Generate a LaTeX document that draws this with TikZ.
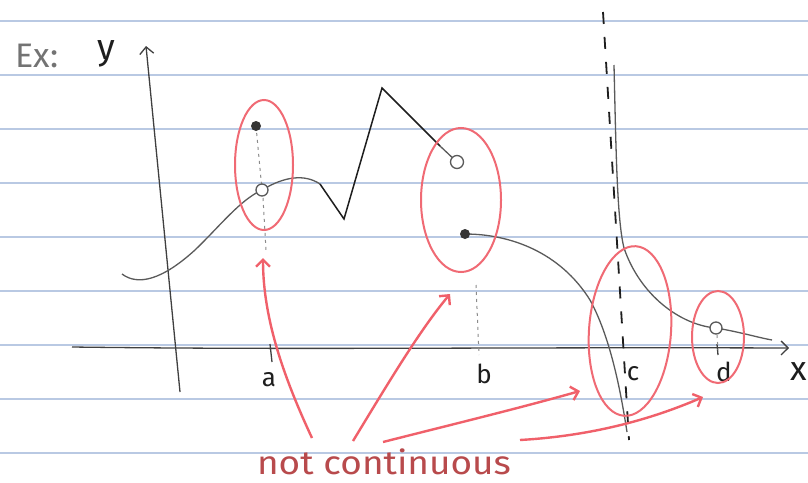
\documentclass[tikz,border=0pt]{standalone}
\usepackage{fontspec}
\setmainfont{Fira Sans}
\usetikzlibrary{arrows.meta}
\definecolor{paperline}{HTML}{B9C9E3}
\definecolor{pen}{HTML}{5A5A5A}
\definecolor{ink}{HTML}{1E1E1E}
\definecolor{circred}{HTML}{F06A74}
\definecolor{arrred}{HTML}{F0606A}
\definecolor{txtred}{HTML}{B84A4C}
\tikzset{
  paper/.style={paperline, line width=1.4pt},
  graphline/.style={pen, line width=1.3pt},
  zigline/.style={ink, line width=1.5pt},
  axisline/.style={ink!85, line width=1.3pt},
  guide/.style={pen!70, line width=1pt, dash pattern=on 3pt off 4pt},
  asym/.style={ink, line width=1.8pt, dash pattern=on 12pt off 13pt},
  ring/.style={circred, line width=2pt},
  note/.style={arrred, line width=2.4pt, -{Straight Barb[length=7pt,width=14pt,line width=2.4pt]}},
  opendot/.style={circle, draw=pen, line width=1.3pt, fill=white, minimum size=12pt, inner sep=0pt},
  fulldot/.style={circle, fill=ink!90, minimum size=10pt, inner sep=0pt},
  hand/.style={font=\fontsize{26}{28}\selectfont, ink},
}
\begin{document}
\begin{tikzpicture}[x=1pt,y=-1pt]
\useasboundingbox[fill=white] (0,0) rectangle (808,482);
% ruled paper
\foreach \yy in {21,75,129,183,237,291,345,399,453}
  \draw[paper] (0,\yy) -- (808,\yy);

% axes
\coordinate (ybot) at (180,392);
\coordinate (ytop) at (146,46);
\coordinate (xl) at (72,347);
\coordinate (xr) at (789,348);
\draw[axisline, -{Straight Barb[length=7pt,width=14pt]}] (ybot) -- (ytop);
\draw[axisline, -{Straight Barb[length=7pt,width=14pt]}] (xl) .. controls (300,350) and (500,347) .. (xr);

% labels
\node[font=\fontsize{34}{36}\selectfont, text=pen!85, inner sep=0pt] (ex) at (37,56) {Ex:};
\node[font=\fontsize{36}{38}\selectfont, ink, inner sep=0pt] (ylab) at (106,54) {y};
\node[font=\fontsize{34}{36}\selectfont, ink, inner sep=0pt] (xlab) at (799,372) {x};
\node[hand, inner sep=0pt] (alab) at (269,380) {a};
\node[hand, inner sep=0pt] (blab) at (484,374) {b};
\node[hand, inner sep=0pt] (clab) at (633,374) {c};
\node[hand, inner sep=0pt] (dlab) at (724,372) {d};
\node[font=\fontsize{33}{35}\selectfont, text=txtred, xscale=1.12, inner sep=0pt] (nc) at (384,462) {not continuous};

% ticks
\draw[axisline] (270,344) -- (272,362);
\draw[axisline] (717,344) -- (718,355);

% points
\coordinate (pa) at (262,190);
\coordinate (qa) at (256,126);
\coordinate (pb) at (457,162);
\coordinate (qb) at (465,234);
\coordinate (pd) at (716,328);

% guides
\draw[guide] (qa) -- (pa);
\draw[guide] (263,198) -- (266,250);
\draw[guide] (476,285) -- (479,355);
\draw[guide] (717,335) -- (718,350);

% curve 1
\draw[graphline] (122,274) .. controls (138,286) and (162,280) .. (195,250)
  .. controls (220,226) and (240,200) .. (pa)
  .. controls (285,176) and (305,174) .. (320,184);
\draw[zigline] (320,184) -- (344,219) -- (382,88) -- (440,146);
\draw[graphline] (440,146) -- (pb);
% curve 2
\draw[graphline] (qb) .. controls (510,234) and (560,252) .. (590,300)
  .. controls (612,340) and (622,400) .. (627,432);
% curve 3
\draw[graphline] (614,65) .. controls (616,150) and (617,220) .. (624,248)
  .. controls (640,295) and (680,325) .. (pd)
  .. controls (740,332) and (760,338) .. (772,340);

% asymptote
\draw[asym] (603,12) -- (629,440);

% dots
\node[opendot] (oa) at (pa) {};
\node[fulldot] (fa) at (qa) {};
\node[opendot, minimum width=9pt, minimum height=13pt] (ob) at (pb) {};
\node[fulldot] (fb) at (qb) {};
\node[opendot] (od) at (pd) {};

% red rings
\draw[ring] (264,165) ellipse [x radius=29, y radius=65];
\draw[ring] (461,200) ellipse [x radius=40, y radius=72];
\draw[ring, rotate around={-4:(630,331)}] (630,331) ellipse [x radius=41, y radius=85];
\draw[ring] (718,337) ellipse [x radius=26, y radius=46];

% red arrows
\coordinate (s1) at (312,438);
\coordinate (e1) at (263,258);
\coordinate (s2) at (353,441);
\coordinate (e2) at (450,294);
\coordinate (s3) at (383,442);
\coordinate (e3) at (580,391);
\coordinate (s4) at (520,440);
\coordinate (e4) at (703,397);
\draw[note] (s1) .. controls (285,380) and (263,320) .. (e1);
\draw[note] (s2) .. controls (390,380) and (420,330) .. (e2);
\draw[note] (s3) .. controls (450,425) and (520,408) .. (e3);
\draw[note] (s4) .. controls (590,436) and (650,420) .. (e4);
\end{tikzpicture}
\end{document}
